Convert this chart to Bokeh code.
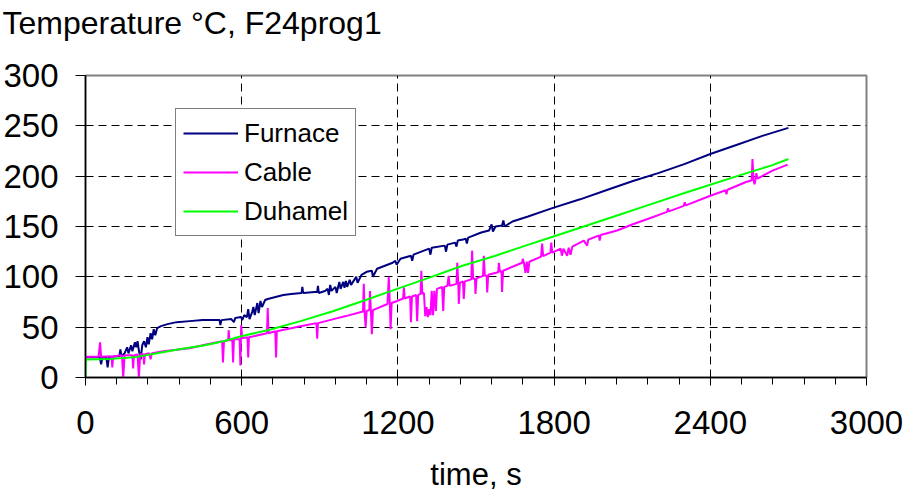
from bokeh.plotting import figure
from bokeh.models import FixedTicker, Range1d, Legend, LegendItem, ColumnDataSource, Title
from bokeh.embed import file_html
from bokeh.resources import INLINE

# ---- data ----
furnace_t = [0, 40, 55, 60, 65, 80, 85, 90, 120, 130, 134, 138, 150, 160, 165, 175, 180, 190, 195,
             200, 205, 212, 218, 225, 232, 238, 243, 250, 256, 262, 268, 275, 290, 315, 350, 400,
             450, 500, 515, 518, 522, 560, 570, 575, 598, 602, 610, 620, 625, 630, 640, 645, 650,
             660, 665, 672, 678, 690, 700, 730, 760, 790, 830, 833, 836, 880, 890, 893, 896, 920,
             930, 935, 940, 945, 960, 965, 975, 980, 990, 995, 1000, 1005, 1015, 1020, 1040, 1045,
             1060, 1080, 1100, 1104, 1120, 1150, 1180, 1190, 1195, 1210, 1250, 1255, 1260, 1300,
             1320, 1325, 1330, 1380, 1385, 1390, 1420, 1425, 1430, 1450, 1460, 1465, 1470, 1520,
             1550, 1560, 1565, 1575, 1600, 1605, 1610, 1640, 1700, 1790, 1900, 2000, 2100, 2200,
             2300, 2400, 2500, 2600, 2650, 2700]
furnace_v = [20, 20, 20, 13, 20, 20, 10, 20, 21, 21, 28, 21, 24, 30, 24, 32, 26, 35, 30,
             36, 27, 18, 32, 36, 30, 40, 33, 44, 38, 48, 42, 49, 51, 53, 55, 56,
             57, 57, 57, 52, 57, 58, 55, 59, 60, 57, 62, 60, 68, 58, 65, 70, 62,
             74, 64, 76, 70, 77, 78, 80, 82, 83, 84, 90, 84, 85, 85, 91, 84, 86,
             88, 82, 92, 86, 90, 84, 95, 88, 95, 89, 96, 90, 97, 92, 100, 94,
             102, 105, 106, 100, 108, 111, 114, 116, 112, 118, 121, 116, 122, 126,
             128, 122, 129, 131, 125, 132, 134, 130, 136, 137, 138, 133, 139, 144,
             146, 152, 145, 150, 151, 156, 150, 155, 160, 168, 177, 186, 195, 203,
             212, 222, 231, 240, 244, 248]

cable_t = [0, 50, 56, 60, 100, 103, 106, 140, 145, 150, 180, 183, 186, 200, 205, 210, 222, 225,
           228, 245, 250, 255, 300, 400, 468, 525, 528, 532, 548, 550, 553, 564, 567, 570, 592,
           595, 598, 602, 622, 625, 628, 697, 700, 703, 729, 732, 735, 826, 887, 890, 893, 953,
           1000, 1066, 1069, 1072, 1076, 1080, 1090, 1093, 1096, 1100, 1104, 1160, 1165, 1169,
           1172, 1176, 1197, 1220, 1223, 1226, 1247, 1250, 1254, 1270, 1274, 1278, 1287, 1290,
           1294, 1300, 1305, 1310, 1315, 1320, 1325, 1330, 1335, 1340, 1346, 1350, 1370, 1374,
           1378, 1390, 1395, 1399, 1425, 1428, 1432, 1434, 1438, 1450, 1453, 1457, 1482, 1485,
           1489, 1496, 1498, 1502, 1527, 1530, 1534, 1541, 1543, 1547, 1585, 1588, 1592, 1598,
           1600, 1604, 1677, 1680, 1684, 1690, 1695, 1700, 1705, 1750, 1754, 1758, 1786, 1789,
           1793, 1825, 1830, 1836, 1850, 1856, 1863, 1870, 1914, 1927, 1931, 1972, 1975, 1979,
           2042, 2100, 2170, 2234, 2237, 2241, 2298, 2302, 2306, 2400, 2459, 2462, 2466, 2535,
           2559, 2562, 2566, 2570, 2574, 2577, 2581, 2639, 2697]
cable_v = [20.5, 20.5, 35, 20.5, 21, 10, 21, 22, 0, 22, 22, 9, 22, 23, 0, 23, 23, 13,
           23, 24, 18, 24, 26, 29, 33, 36, 15, 36, 37, 47, 37, 37, 15, 38, 38,
           12, 52, 39, 40, 20, 40, 44, 69, 44, 46, 20, 46, 51, 54, 38.5, 54, 58,
           61, 65.5, 93, 65.5, 50, 66, 67, 86, 67, 43, 67, 73, 100, 73,
           48, 74, 76, 78.5, 89.5, 78.5, 80.5, 55, 80.5, 82, 56, 82, 83, 106,
           83, 84, 61, 70, 60, 68, 62, 86, 62, 86, 66, 88, 90, 66,
           90, 91, 101, 91, 93, 114, 93, 73, 94, 95.5, 78, 95.5, 97.5, 126,
           98, 98, 83, 98.5, 101, 121, 101, 101, 84.5, 102, 104.5, 114, 105, 105.5,
           85, 106, 114, 118, 114, 104, 115, 104, 115, 120, 133, 120.5, 124, 134,
           124, 128, 121, 128, 121, 129, 122, 130, 136, 131, 137, 141, 136, 141.5,
           146, 152, 158.5, 164.5, 168, 165, 170.5, 174, 171, 180.5, 186, 182, 186.5, 194,
           196, 217, 196, 192, 197, 203, 197.5, 205.5, 211.5]

duhamel_t = [0, 1, 100, 187, 275, 360, 459, 530, 598, 700, 826, 953, 1082, 1197, 1318, 1448,
             1575, 1702, 1786, 1914, 2042, 2170, 2298, 2400, 2509, 2639, 2700]
duhamel_v = [0, 18, 18.5, 20, 24, 28, 32, 36, 41, 47, 56, 66, 77.5, 88, 99, 111,
             121, 132, 139, 150, 161, 172, 183, 191.5, 200.5, 211, 217]

x_ticks = [0, 600, 1200, 1800, 2400, 3000]
x_minor = [120, 240, 360, 480, 720, 840, 960, 1080, 1320, 1440, 1560, 1680,
           1920, 2040, 2160, 2280, 2520, 2640, 2760, 2880]
y_ticks = [0, 50, 100, 150, 200, 250, 300]

FONT = "Liberation Sans"

p = figure(width=904, height=495, output_backend="svg", toolbar_location=None,
           x_range=Range1d(0, 3000), y_range=Range1d(0, 300),
           min_border_left=85, min_border_right=38, min_border_top=75, min_border_bottom=118)
p.background_fill_color = "white"
p.border_fill_color = "white"
p.outline_line_color = "#808080"
p.outline_line_width = 2

# invisible spacer between frame and title (pushes the title upward)
spacer = Title(text=" ", text_font=FONT, text_font_size="10px", standoff=18,
               text_color="white")
p.add_layout(spacer, "above")

p.title.text = "Temperature °C, F24prog1"
p.title.text_font = FONT
p.title.text_font_size = "32px"
p.title.text_font_style = "normal"
p.title.text_color = "black"
p.title.align = "left"
p.title.vertical_align = "top"
p.title.offset = -83
p.title.standoff = 4

# axes
p.xaxis.ticker = FixedTicker(ticks=x_ticks, minor_ticks=x_minor)
p.yaxis.ticker = FixedTicker(ticks=y_ticks)
for ax in (p.xaxis[0], p.yaxis[0]):
    ax.axis_line_color = "black"
    ax.axis_line_width = 1.5
    ax.major_tick_line_color = "black"
    ax.minor_tick_line_color = "black"
    ax.major_tick_in = 0
    ax.minor_tick_in = 0
    ax.major_label_text_font = FONT
    ax.major_label_text_font_size = "33px"
    ax.major_label_text_color = "black"
p.xaxis.major_tick_out = 8
p.xaxis.minor_tick_out = 7
p.xaxis.major_label_standoff = 25
p.xaxis.axis_label = "time, s"
p.xaxis.axis_label_text_font = FONT
p.xaxis.axis_label_text_font_size = "31px"
p.xaxis.axis_label_text_font_style = "normal"
p.xaxis.axis_label_text_color = "black"
p.xaxis.axis_label_standoff = 20
p.yaxis.major_tick_out = 10
p.yaxis.minor_tick_out = 0
p.yaxis.major_label_standoff = 17

# grids
p.xgrid.ticker = FixedTicker(ticks=[600, 1200, 1800, 2400])
p.ygrid.ticker = FixedTicker(ticks=[50, 100, 150, 200, 250])
for g in (p.xgrid[0], p.ygrid[0]):
    g.grid_line_color = "black"
    g.grid_line_dash = "8 5"
    g.grid_line_width = 1

src_f = ColumnDataSource(dict(t=furnace_t, v=furnace_v))
src_c = ColumnDataSource(dict(t=cable_t, v=cable_v))
src_d = ColumnDataSource(dict(t=duhamel_t, v=duhamel_v))

r_f = p.line("t", "v", source=src_f, line_color="#000080", line_width=2)
r_c = p.line("t", "v", source=src_c, line_color="#FF00FF", line_width=2)
r_d = p.line("t", "v", source=src_d, line_color="#00FF00", line_width=2)

legend = Legend(items=[LegendItem(label="Furnace", renderers=[r_f]),
                       LegendItem(label="Cable", renderers=[r_c]),
                       LegendItem(label="Duhamel", renderers=[r_d])],
                location=(90, 141))
legend.label_text_font = FONT
legend.label_text_font_size = "26px"
legend.label_text_color = "black"
legend.glyph_width = 55
legend.glyph_height = 20
legend.label_height = 34
legend.spacing = 5
legend.padding = 7
legend.margin = 0
legend.label_standoff = 6
legend.border_line_color = "black"
legend.border_line_width = 1
legend.background_fill_color = "white"
legend.background_fill_alpha = 1
p.add_layout(legend, "center")

open("out.html", "w").write(file_html(p, INLINE))
